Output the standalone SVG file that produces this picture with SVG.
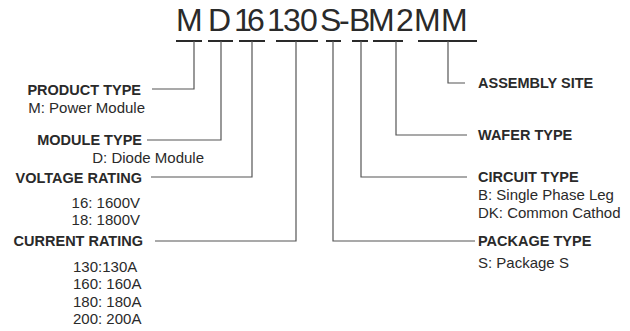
<svg xmlns="http://www.w3.org/2000/svg" width="630" height="331" viewBox="0 0 630 331">
<style>
.t{font-family:"Liberation Sans",Arial,sans-serif;fill:#2a2a2a}
.b{font-weight:bold;font-size:14.5px}
.r{font-size:15px}
.ul{stroke:#2a2a2a;stroke-width:2.2;fill:none}
.ln{stroke:#555;stroke-width:1.2;fill:none}
</style>
<rect width="630" height="331" fill="#fff"/>
<g id="code">
<text class="t" font-size="32" fill="#333" y="31" x="176 200 208 234 247 267 283 300 320 339 349 368 396 414 441">M D16130S-BM2MM</text>
<path class="ul" d="M176 41H202M208 41H233M239 41H265M276 41H318M326 41H341M352 41H368M373 41H403M418 41H477"/>
</g>
<g id="connectors">
<path class="ln" d="M194 41V89H152"/>
<path class="ln" d="M221 41V140H147"/>
<path class="ln" d="M252 41V177H151"/>
<path class="ln" d="M296 41V241H155"/>
<path class="ln" d="M333 41V241H475"/>
<path class="ln" d="M361 41V177H467"/>
<path class="ln" d="M396 41V135H467"/>
<path class="ln" d="M448 41V83H465"/>
</g>
<g id="product-type">
<text class="t b" x="141" y="95" text-anchor="end">PRODUCT TYPE</text>
<text class="t r" x="145" y="113" text-anchor="end">M: Power Module</text>
</g>
<g id="module-type">
<text class="t b" x="142" y="145" text-anchor="end">MODULE TYPE</text>
<text class="t r" x="204" y="163" text-anchor="end">D: Diode Module</text>
</g>
<g id="voltage-rating">
<text class="t b" x="142" y="183" text-anchor="end">VOLTAGE RATING</text>
<text class="t r" x="140" y="208" text-anchor="end">16: 1600V</text>
<text class="t r" x="140" y="225" text-anchor="end">18: 1800V</text>
</g>
<g id="current-rating">
<text class="t b" x="143" y="246" text-anchor="end">CURRENT RATING</text>
<text class="t r" x="73" y="272">130:130A</text>
<text class="t r" x="73" y="289">160: 160A</text>
<text class="t r" x="73" y="307">180: 180A</text>
<text class="t r" x="73" y="324">200: 200A</text>
</g>
<g id="assembly-site">
<text class="t b" x="478" y="88">ASSEMBLY SITE</text>
</g>
<g id="wafer-type">
<text class="t b" x="478" y="140">WAFER TYPE</text>
</g>
<g id="circuit-type">
<text class="t b" x="478" y="182">CIRCUIT TYPE</text>
<text class="t r" x="478" y="200">B: Single Phase Leg</text>
<text class="t r" x="478" y="218">DK: Common Cathod</text>
</g>
<g id="package-type">
<text class="t b" x="478" y="246">PACKAGE TYPE</text>
<text class="t r" x="478" y="268">S: Package S</text>
</g>
</svg>
